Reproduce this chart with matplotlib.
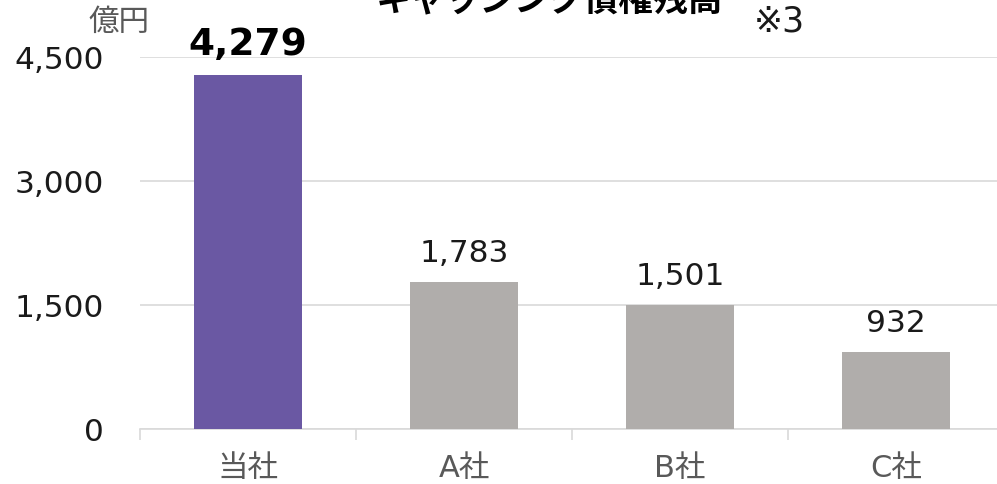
import matplotlib
matplotlib.use('Agg')
import matplotlib.pyplot as plt
import numpy as np

plt.rcParams['font.family'] = ['DejaVu Sans', 'Noto Sans CJK JP']

# chart data
categories = ['当社', 'A社', 'B社', 'C社']
balances = [4279, 1783, 1501, 932]
bar_colors = ['#6a58a3', '#b0adab', '#b0adab', '#b0adab']
y_ticks = [0, 1500, 3000, 4500]

fig = plt.figure(figsize=(9.97, 4.85), dpi=100)
ax = fig.add_axes([140 / 997, 55 / 485, 864 / 997, 372 / 485])

x = np.arange(len(categories))
ax.bar(x, balances, width=0.5, color=bar_colors, zorder=3)

ax.set_xlim(-0.5, len(categories) - 0.5)
ax.set_ylim(0, 4500)
ax.set_yticks(y_ticks)
ax.set_yticklabels([f'{v:,}' for v in y_ticks], fontsize=22.5, color='#1a1a1a')
ax.tick_params(axis='y', length=0, pad=26)
ax.grid(axis='y', color='#d9d9d9', lw=1.2, zorder=0)

# category labels centered, tick marks at boundaries
ax.set_xticks(x)
ax.set_xticklabels(categories, fontsize=22, color='#595959')
ax.tick_params(axis='x', which='major', length=0, pad=17)
ax.set_xticks(np.arange(-0.5, len(categories) + 0.5, 1), minor=True)
ax.tick_params(axis='x', which='minor', length=8, color='#d9d9d9', width=1.2)

for side in ['top', 'right', 'left']:
    ax.spines[side].set_visible(False)
ax.spines['bottom'].set_color('#d9d9d9')
ax.spines['bottom'].set_linewidth(1.2)

# value labels
for i, v in enumerate(balances):
    if i == 0:
        ax.annotate(f'{v:,}', (i, v), xytext=(0, 15), textcoords='offset points',
                    ha='center', va='baseline', fontsize=27, fontweight='bold',
                    color='black', annotation_clip=False)
    else:
        ax.annotate(f'{v:,}', (i, v), xytext=(0, 15), textcoords='offset points',
                    ha='center', va='baseline', fontsize=22.5, color='#1a1a1a',
                    annotation_clip=False)

fig.text(550 / 997, 1.0, 'キャッシング債権残高', ha='center', va='center',
         fontsize=25, fontweight='bold', color='black')
fig.text(779 / 997, 1 - 22 / 485, '※3', ha='center', va='center', fontsize=25,
         color='#1a1a1a')
fig.text(119 / 997, 1 - 22 / 485, '億円', ha='center', va='center', fontsize=22,
         color='#595959')

fig.savefig('out.png', dpi=100)
